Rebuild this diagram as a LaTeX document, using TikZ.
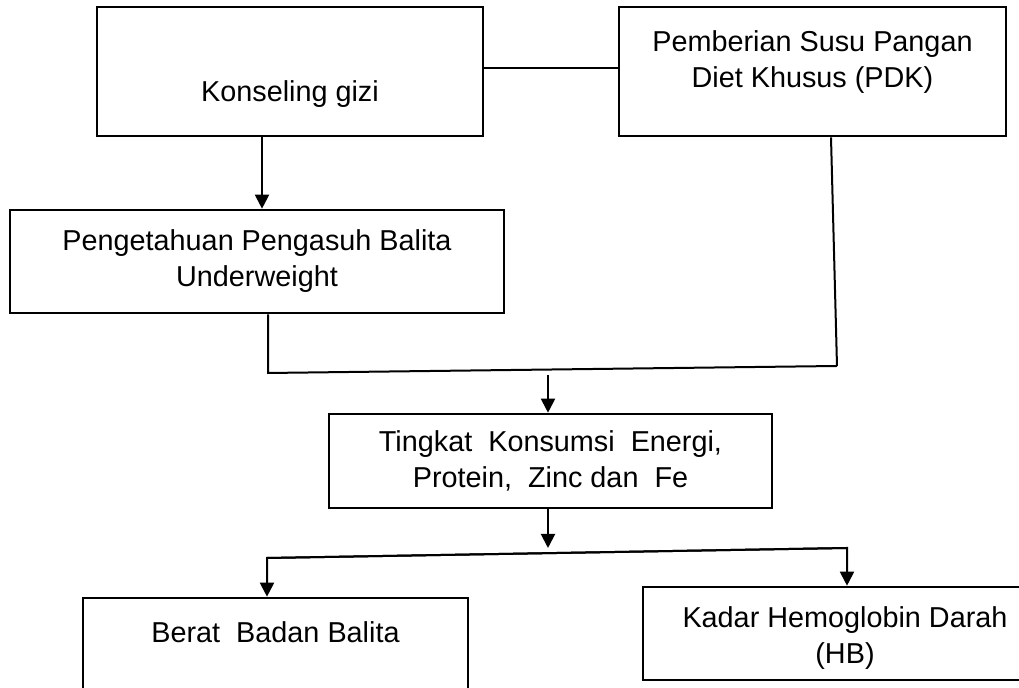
\documentclass[tikz,border=0pt]{standalone}
\usepackage{fontspec}
\setmainfont{Liberation Sans}
\usepackage{tikz}
\usetikzlibrary{arrows.meta}

% text lowered or raised inside a box, without changing the box
\newcommand{\boxtext}[2]{\raisebox{#1}[0pt][0pt]{\begin{tabular}[t]{@{}c@{}}#2\end{tabular}}}

\begin{document}
\begin{tikzpicture}[x=0.5pt,y=-0.5pt,
	font=\fontsize{14.4}{18}\selectfont,
	box/.style={draw, line width=1.3pt, align=center, inner sep=0pt},
	line/.style={line width=1pt},
	arr/.style={line width=1pt, -{Triangle[length=7pt,width=7pt]}}]
	\useasboundingbox (0,0) rectangle (1019,688);
	\clip (0,0) rectangle (1019,688);

	% top row
	\node[box, minimum width=193pt, minimum height=64.5pt] (konseling) at (290,71.5) {\boxtext{-15.25pt}{Konseling gizi}};
	\node[box, minimum width=193.5pt, minimum height=64.5pt] (pdk) at (812.5,71.5) {\boxtext{9.75pt}{Pemberian Susu Pangan\\Diet Khusus (PDK)}};
	\node[box, minimum width=247pt, minimum height=51.5pt] (pengetahuan) at (257,261.5) {Pengetahuan Pengasuh Balita\\Underweight};

	% middle
	\node[box, minimum width=221.5pt, minimum height=47pt] (tingkat) at (550.5,461) {Tingkat\ \ Konsumsi\ \ Energi,\\Protein,\ \ Zinc dan\ \ Fe};

	% bottom row
	\node[box, minimum width=192.5pt, minimum height=51pt] (berat) at (275.5,649) {\boxtext{3pt}{Berat\ \ Badan Balita}};
	\node[box, minimum width=202pt, minimum height=46.5pt] (kadar) at (845,633.5) {\boxtext{2.75pt}{Kadar Hemoglobin Darah\\(HB)}};

	\coordinate (pdkfoot) at (837,366);
	\coordinate (pengfoot) at (268,373);
	\coordinate (merge) at (548,375);
	\coordinate (split) at (548,548);
	\coordinate (splitl) at (267,558);
	\coordinate (splitr) at (847,548);

	\draw[line] ([yshift=1.75pt]konseling.east) -- ([yshift=1.75pt]pdk.west);
	\draw[arr] ([xshift=-14pt]konseling.south) -- ([xshift=-14pt]konseling.south |- pengetahuan.north);
	\draw[line] ([xshift=9.25pt]pdk.south) -- (pdkfoot);
	\draw[line] ([xshift=5.5pt]pengetahuan.south) -- (pengfoot) -- (pdkfoot);
	\draw[arr] (merge) -- (merge |- tingkat.north);
	\draw[arr] (tingkat.south -| split) -- (split);
	\draw[arr] (splitr) -- (splitl) -- (splitl |- berat.north);
	\draw[arr] (splitl) -- (splitr) -- (splitr |- kadar.north);
\end{tikzpicture}
\end{document}
